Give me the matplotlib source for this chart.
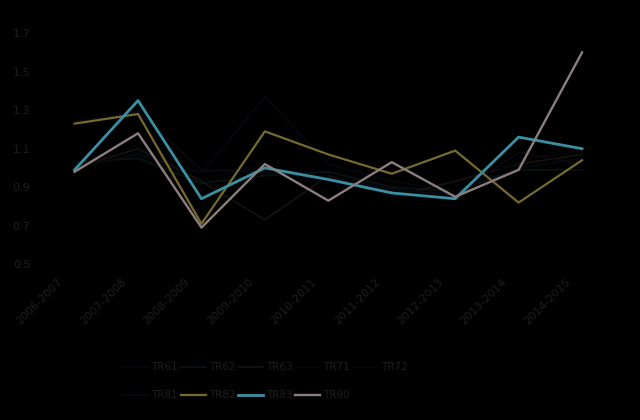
import numpy as np
import matplotlib
matplotlib.use('Agg')
import matplotlib.pyplot as plt
import matplotlib.transforms as mtransforms

years = ['2006-2007', '2007-2008', '2008-2009', '2009-2010', '2010-2011',
         '2011-2012', '2012-2013', '2013-2014', '2014-2015']

tr61 = [1.00, 1.07, 0.97, 1.37, 1.02, 0.93, 0.88, 1.00, 1.05]
tr62 = [1.03, 1.05, 0.92, 0.96, 0.98, 0.90, 0.88, 0.99, 0.99]
tr63 = [1.00, 1.10, 0.93, 0.73, 0.96, 0.85, 0.93, 1.02, 1.07]
tr71 = [1.00, 1.08, 0.98, 1.00, 0.95, 0.85, 0.88, 1.03, 1.12]
tr72 = [1.00, 1.12, 0.94, 1.02, 0.93, 0.88, 0.86, 1.05, 1.08]
tr81 = [1.24, 1.29, 0.99, 0.98, 0.94, 0.89, 0.86, 1.08, 1.02]
tr82 = [1.23, 1.28, 0.71, 1.19, 1.07, 0.97, 1.09, 0.82, 1.04]
tr83 = [0.99, 1.35, 0.84, 1.00, 0.94, 0.87, 0.84, 1.16, 1.10]
tr90 = [0.98, 1.18, 0.69, 1.02, 0.83, 1.03, 0.85, 0.99, 1.60]

series = {
    'TR61': (tr61, '#06080f', 1.2),
    'TR62': (tr62, '#071416', 1.2),
    'TR63': (tr63, '#181212', 1.2),
    'TR71': (tr71, '#060608', 1.2),
    'TR72': (tr72, '#050507', 1.2),
    'TR81': (tr81, '#0c0812', 1.2),
    'TR82': (tr82, '#766a2e', 1.6),
    'TR83': (tr83, '#3a90a3', 2.0),
    'TR90': (tr90, '#8c7e7f', 1.7),
}

txt = '#1e1e1e'
fig = plt.figure(figsize=(6.4, 4.2), dpi=100, facecolor='black')
ax = fig.add_axes([0.067, 0.371, 0.892, 0.55], facecolor='black')

x = np.arange(len(years))
lines = {}
for name, (vals, col, lw) in series.items():
    lines[name], = ax.plot(x, vals, color=col, lw=lw, label=name)

ax.set_xlim(-0.5, len(years) - 0.5)
ax.set_ylim(0.5, 1.7)
ax.set_yticks([0.5, 0.7, 0.9, 1.1, 1.3, 1.5, 1.7])
ax.set_yticklabels(['0.5', '0.7', '0.9', '1.1', '1.3', '1.5', '1.7'])
ax.set_xticks(x)
ax.set_xticklabels(years, rotation=45, ha='right', rotation_mode='anchor')
ax.tick_params(colors=txt, labelsize=8, length=0)
ax.tick_params(axis='x', pad=11)
ax.tick_params(axis='y', pad=9)
for s in ax.spines.values():
    s.set_visible(False)

# nudge the slanted year labels left, like the original
shift = mtransforms.ScaledTranslation(-0.17, 0.03, fig.dpi_scale_trans)
for lab in ax.get_xticklabels():
    lab.set_transform(lab.get_transform() + shift)

# row-major legend layout with matplotlib's column filling
order = ['TR61', 'TR81', 'TR62', 'TR82', 'TR63', 'TR83', 'TR71', 'TR90', 'TR72']
leg = fig.legend([lines[n] for n in order], order, ncol=5, loc='upper left',
                 bbox_to_anchor=(0.178, 0.16), frameon=False, fontsize=7.5,
                 handlelength=2.4, handletextpad=0.3, columnspacing=0.25,
                 labelspacing=1.75)
for t in leg.get_texts():
    t.set_color(txt)

fig.savefig('out.png', dpi=100, facecolor='black')
